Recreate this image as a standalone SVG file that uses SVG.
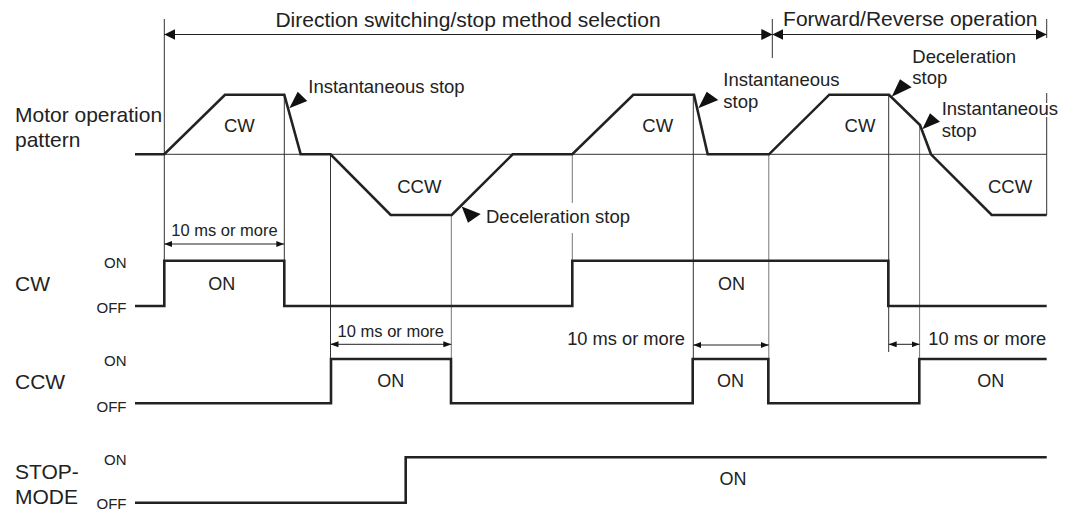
<svg xmlns="http://www.w3.org/2000/svg" width="1069" height="511" viewBox="0 0 1069 511">
<style>
text{font-family:"Liberation Sans",Arial,sans-serif;fill:#222}
.big{font-size:21px}
.lbl{font-size:18.5px}
.halo{stroke:#fff;stroke-width:4;paint-order:stroke;stroke-linejoin:round}
.st{font-size:15px;text-anchor:end}
.on{font-size:18px;text-anchor:middle}
.dm{font-size:16.5px;text-anchor:middle}
.dm2{font-size:18.3px}
.thick{fill:none;stroke:#222;stroke-width:2.6;stroke-linejoin:miter}
.thin{fill:none;stroke:#333;stroke-width:1}
.grey{fill:none;stroke:#777;stroke-width:1}
.dim{fill:none;stroke:#222;stroke-width:1}
.tri{fill:#111}
</style>
<defs>
<marker id="ah" viewBox="0 0 11 11" refX="11" refY="5.5" markerWidth="11" markerHeight="11" orient="auto-start-reverse" markerUnits="userSpaceOnUse"><path d="M0,0 L11,5.5 L0,11 z" fill="#111"/></marker>
<marker id="ahs" viewBox="0 0 8 6" refX="8" refY="3" markerWidth="8" markerHeight="6" orient="auto-start-reverse" markerUnits="userSpaceOnUse"><path d="M0,0 L8,3 L0,6 z" fill="#111"/></marker>
</defs>
<rect width="1069" height="511" fill="#fff"/>

<g id="row-labels">
<text class="big" x="15" y="122">Motor operation</text>
<text class="big" x="15" y="146.5">pattern</text>
<text class="big" x="15" y="291">CW</text>
<text class="big" x="15" y="388.5">CCW</text>
<text class="big" x="15" y="478.5">STOP-</text>
<text class="big" x="15" y="504">MODE</text>
<text class="st" x="126.5" y="267.5">ON</text>
<text class="st" x="126.5" y="312.5">OFF</text>
<text class="st" x="126.5" y="366">ON</text>
<text class="st" x="126.5" y="411.5">OFF</text>
<text class="st" x="126.5" y="465">ON</text>
<text class="st" x="126.5" y="508.5">OFF</text>
</g>

<g id="connectors">
<path class="thin" d="M164.3,19 V260.7"/>
<path class="thin" d="M284.3,94.7 V260.7"/>
<path class="thin" d="M330.5,154.3 V359"/>
<path class="grey" d="M451.3,215 V359"/>
<path class="grey" d="M572.3,154.3 V203 M572.3,233 V260.7"/>
<path class="thin" d="M693.3,94.7 V359"/>
<path class="thin" d="M772.3,19 V58"/>
<path class="grey" d="M768.8,154.3 V403.3"/>
<path class="thin" d="M888.7,94.7 V352"/>
<path class="grey" d="M919.6,125 V359"/>
<path class="thin" d="M1046.7,19 V38 M1046.7,93 V215"/>
<path class="thin" d="M164.3,154.3 H1046.7"/>
<path class="dim" d="M164.3,34.5 H772.3" marker-start="url(#ah)" marker-end="url(#ah)"/>
<path class="dim" d="M772.3,34.5 H1046.7" marker-start="url(#ah)" marker-end="url(#ah)"/>
<path class="dim" d="M164.3,244 H284.3" marker-start="url(#ahs)" marker-end="url(#ahs)"/>
<path class="dim" d="M330.5,344.3 H451.3" marker-start="url(#ahs)" marker-end="url(#ahs)"/>
<path class="dim" d="M693.3,345 H768.8" marker-start="url(#ahs)" marker-end="url(#ahs)"/>
<path class="dim" d="M888.7,344.3 H919.6" marker-start="url(#ahs)" marker-end="url(#ahs)"/>
</g>

<g id="section-titles">
<text class="big" x="468" y="26.5" text-anchor="middle">Direction switching/stop method selection</text>
<text class="big" x="910.3" y="26" text-anchor="middle">Forward/Reverse operation</text>
</g>

<g id="motor-pattern">
<path class="thick" d="M135,154.3 L164.3,154.3 L225,94.7 L284.3,94.7 L300.7,154.3 L330.5,154.3 L390.7,215 L451.7,215 L512.7,154.3 L572.3,154.3 L633.3,94.7 L694,94.7 L707.7,154.3 L769,154.3 L829.3,94.7 L889,94.7 L920,125 L931,154.3 L991.7,215 L1046.7,215"/>
<text class="lbl" x="239.3" y="131.7" text-anchor="middle">CW</text>
<text class="lbl" x="419.3" y="192.7" text-anchor="middle">CCW</text>
<text class="lbl" x="657.7" y="131.7" text-anchor="middle">CW</text>
<text class="lbl" x="860" y="131.7" text-anchor="middle">CW</text>
<text class="lbl" x="1010" y="192.7" text-anchor="middle">CCW</text>
</g>

<g id="callouts">
<polygon class="tri" points="289.3,108.3 297.7,91.7 307.3,101"/>
<text class="lbl" x="308.3" y="93.3">Instantaneous stop</text>
<polygon class="tri" points="461.7,206.5 468,222.7 480.7,214"/>
<text class="lbl" x="486" y="223.3">Deceleration stop</text>
<polygon class="tri" points="698.3,108.3 706.7,91.7 718.3,100"/>
<text class="lbl" x="723.3" y="86">Instantaneous</text>
<text class="lbl" x="723.3" y="108.3">stop</text>
<polygon class="tri" points="891.7,96.7 900,79.3 911.7,87.3"/>
<text class="lbl" x="912.3" y="62.7">Deceleration</text>
<text class="lbl" x="912.3" y="84">stop</text>
<polygon class="tri" points="922.3,129.3 930,113.3 940,121.7"/>
<text class="lbl halo" x="941.7" y="115">Instantaneous</text>
<text class="lbl" x="941.7" y="136.5">stop</text>
</g>

<g id="dimension-labels">
<text class="dm" x="224.5" y="236">10 ms or more</text>
<text class="dm" x="390.8" y="336.5">10 ms or more</text>
<text class="dm2" x="685" y="345" text-anchor="end">10 ms or more</text>
<text class="dm2" x="928.3" y="345">10 ms or more</text>
</g>

<g id="cw-signal">
<path class="thick" d="M135,306 H164.3 V260.7 H284.3 V306 H572.3 V260.7 H888.3 V306 H1046.7"/>
<text class="on" x="221.7" y="290">ON</text>
<text class="on" x="731.5" y="290">ON</text>
</g>

<g id="ccw-signal">
<path class="thick" d="M135,403.3 H331 V359 H451 V403.3 H692.7 V359 H768.3 V403.3 H919.3 V359 H1046.7"/>
<text class="on" x="390.7" y="386.7">ON</text>
<text class="on" x="730.5" y="386.7">ON</text>
<text class="on" x="990.7" y="386.7">ON</text>
</g>

<g id="stopmode-signal">
<path class="thick" d="M135,502.7 H405.7 V457.3 H1046.7"/>
<text class="on" x="733" y="485">ON</text>
</g>
</svg>
